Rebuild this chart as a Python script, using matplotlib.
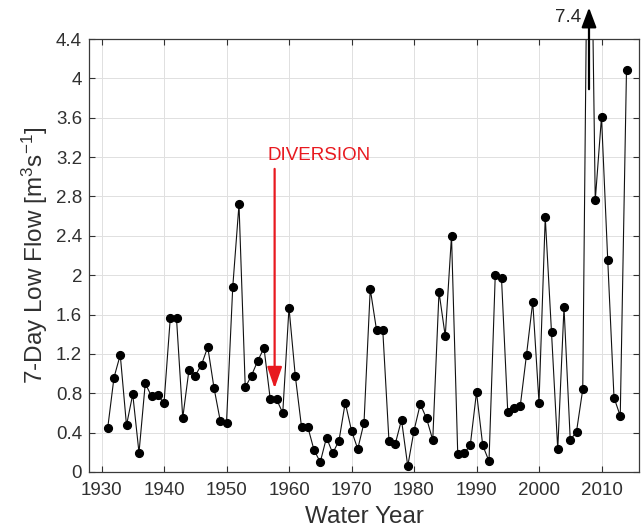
import matplotlib
matplotlib.use("Agg")
import matplotlib.pyplot as plt

years = list(range(1931, 2015))
flow = [0.45, 0.96, 1.19, 0.475, 0.79, 0.196, 0.90, 0.77, 0.78, 0.70,
        1.56, 1.56, 0.55, 1.04, 0.98, 1.09, 1.27, 0.855, 0.52, 0.50,
        1.88, 2.72, 0.86, 0.98, 1.13, 1.26, 0.74, 0.74, 0.60, 1.67,
        0.98, 0.46, 0.46, 0.224, 0.10, 0.35, 0.19, 0.32, 0.705, 0.42,
        0.234, 0.50, 1.86, 1.445, 1.445, 0.31, 0.285, 0.53, 0.06, 0.42,
        0.69, 0.546, 0.325, 1.83, 1.38, 2.40, 0.18, 0.19, 0.27, 0.81,
        0.27, 0.11, 2.00, 1.97, 0.61, 0.65, 0.67, 1.19, 1.73, 0.705,
        2.59, 1.42, 0.23, 1.675, 0.325, 0.41, 0.84, 7.4, 2.76, 3.61,
        2.15, 0.756, 0.57, 4.09]

xticks = [1930, 1940, 1950, 1960, 1970, 1980, 1990, 2000, 2010]
yticks = [0, 0.4, 0.8, 1.2, 1.6, 2.0, 2.4, 2.8, 3.2, 3.6, 4.0, 4.4]
ytick_labels = ["0", "0.4", "0.8", "1.2", "1.6", "2", "2.4", "2.8", "3.2", "3.6", "4", "4.4"]

diversion_year = 1957.7
peak_year = 2008
peak_label = "7.4"

plt.rcParams['font.family'] = ['Liberation Sans', 'DejaVu Sans']
plt.rcParams['mathtext.fontset'] = 'custom'
plt.rcParams['mathtext.rm'] = 'Liberation Sans'
plt.rcParams['mathtext.it'] = 'Liberation Sans:italic'

fig = plt.figure(figsize=(6.41, 5.30), dpi=100)
ax = fig.add_axes([89/641, 1 - 472/530, (639 - 89)/641, (472 - 39)/530])

ax.plot(years, flow, color='#111111', linewidth=0.8, marker='o',
        markersize=5.6, markerfacecolor='black', markeredgecolor='black')

ax.set_xlim(1928, 2016)
ax.set_ylim(0, 4.4)
ax.set_xticks(xticks)
ax.set_yticks(yticks)
ax.set_yticklabels(ytick_labels)

ax.grid(True, color='#e0e0e0', linewidth=0.7)
ax.set_axisbelow(True)
ax.tick_params(direction='in', length=4, width=0.8, colors='#303030',
               labelsize=13.5, top=True, right=True)
ax.tick_params(axis='x', pad=7)
ax.tick_params(axis='y', pad=5)
for sp in ax.spines.values():
    sp.set_color('#3a3a3a')
    sp.set_linewidth(0.9)

ax.set_xlabel("Water Year", fontsize=17.5, color='#303030', labelpad=5)
ax.set_ylabel("7-Day Low Flow [m$^{3}$s$^{-1}$]", fontsize=17.5,
              color='#303030', labelpad=4)

# Diversion arrow
ax.annotate("", xy=(diversion_year, 0.85), xytext=(diversion_year, 3.08),
            arrowprops=dict(arrowstyle='-|>,head_length=1.3,head_width=0.45',
                            color='#e8191f', linewidth=1.6, shrinkA=0, shrinkB=0))
ax.text(diversion_year - 1.2, 3.22, "DIVERSION", color='#e8191f', fontsize=13.5,
        ha='left', va='center')

# Off-scale peak arrow
ax.annotate("", xy=(peak_year, 4.72), xytext=(peak_year, 3.89),
            arrowprops=dict(arrowstyle='-|>,head_length=1.2,head_width=0.45',
                            color='black', linewidth=1.6, shrinkA=0, shrinkB=0),
            annotation_clip=False)
ax.text(peak_year - 1.25, 4.615, peak_label, color='#262626', fontsize=13.5,
        ha='right', va='center', clip_on=False)

fig.savefig("out.png", dpi=100)
